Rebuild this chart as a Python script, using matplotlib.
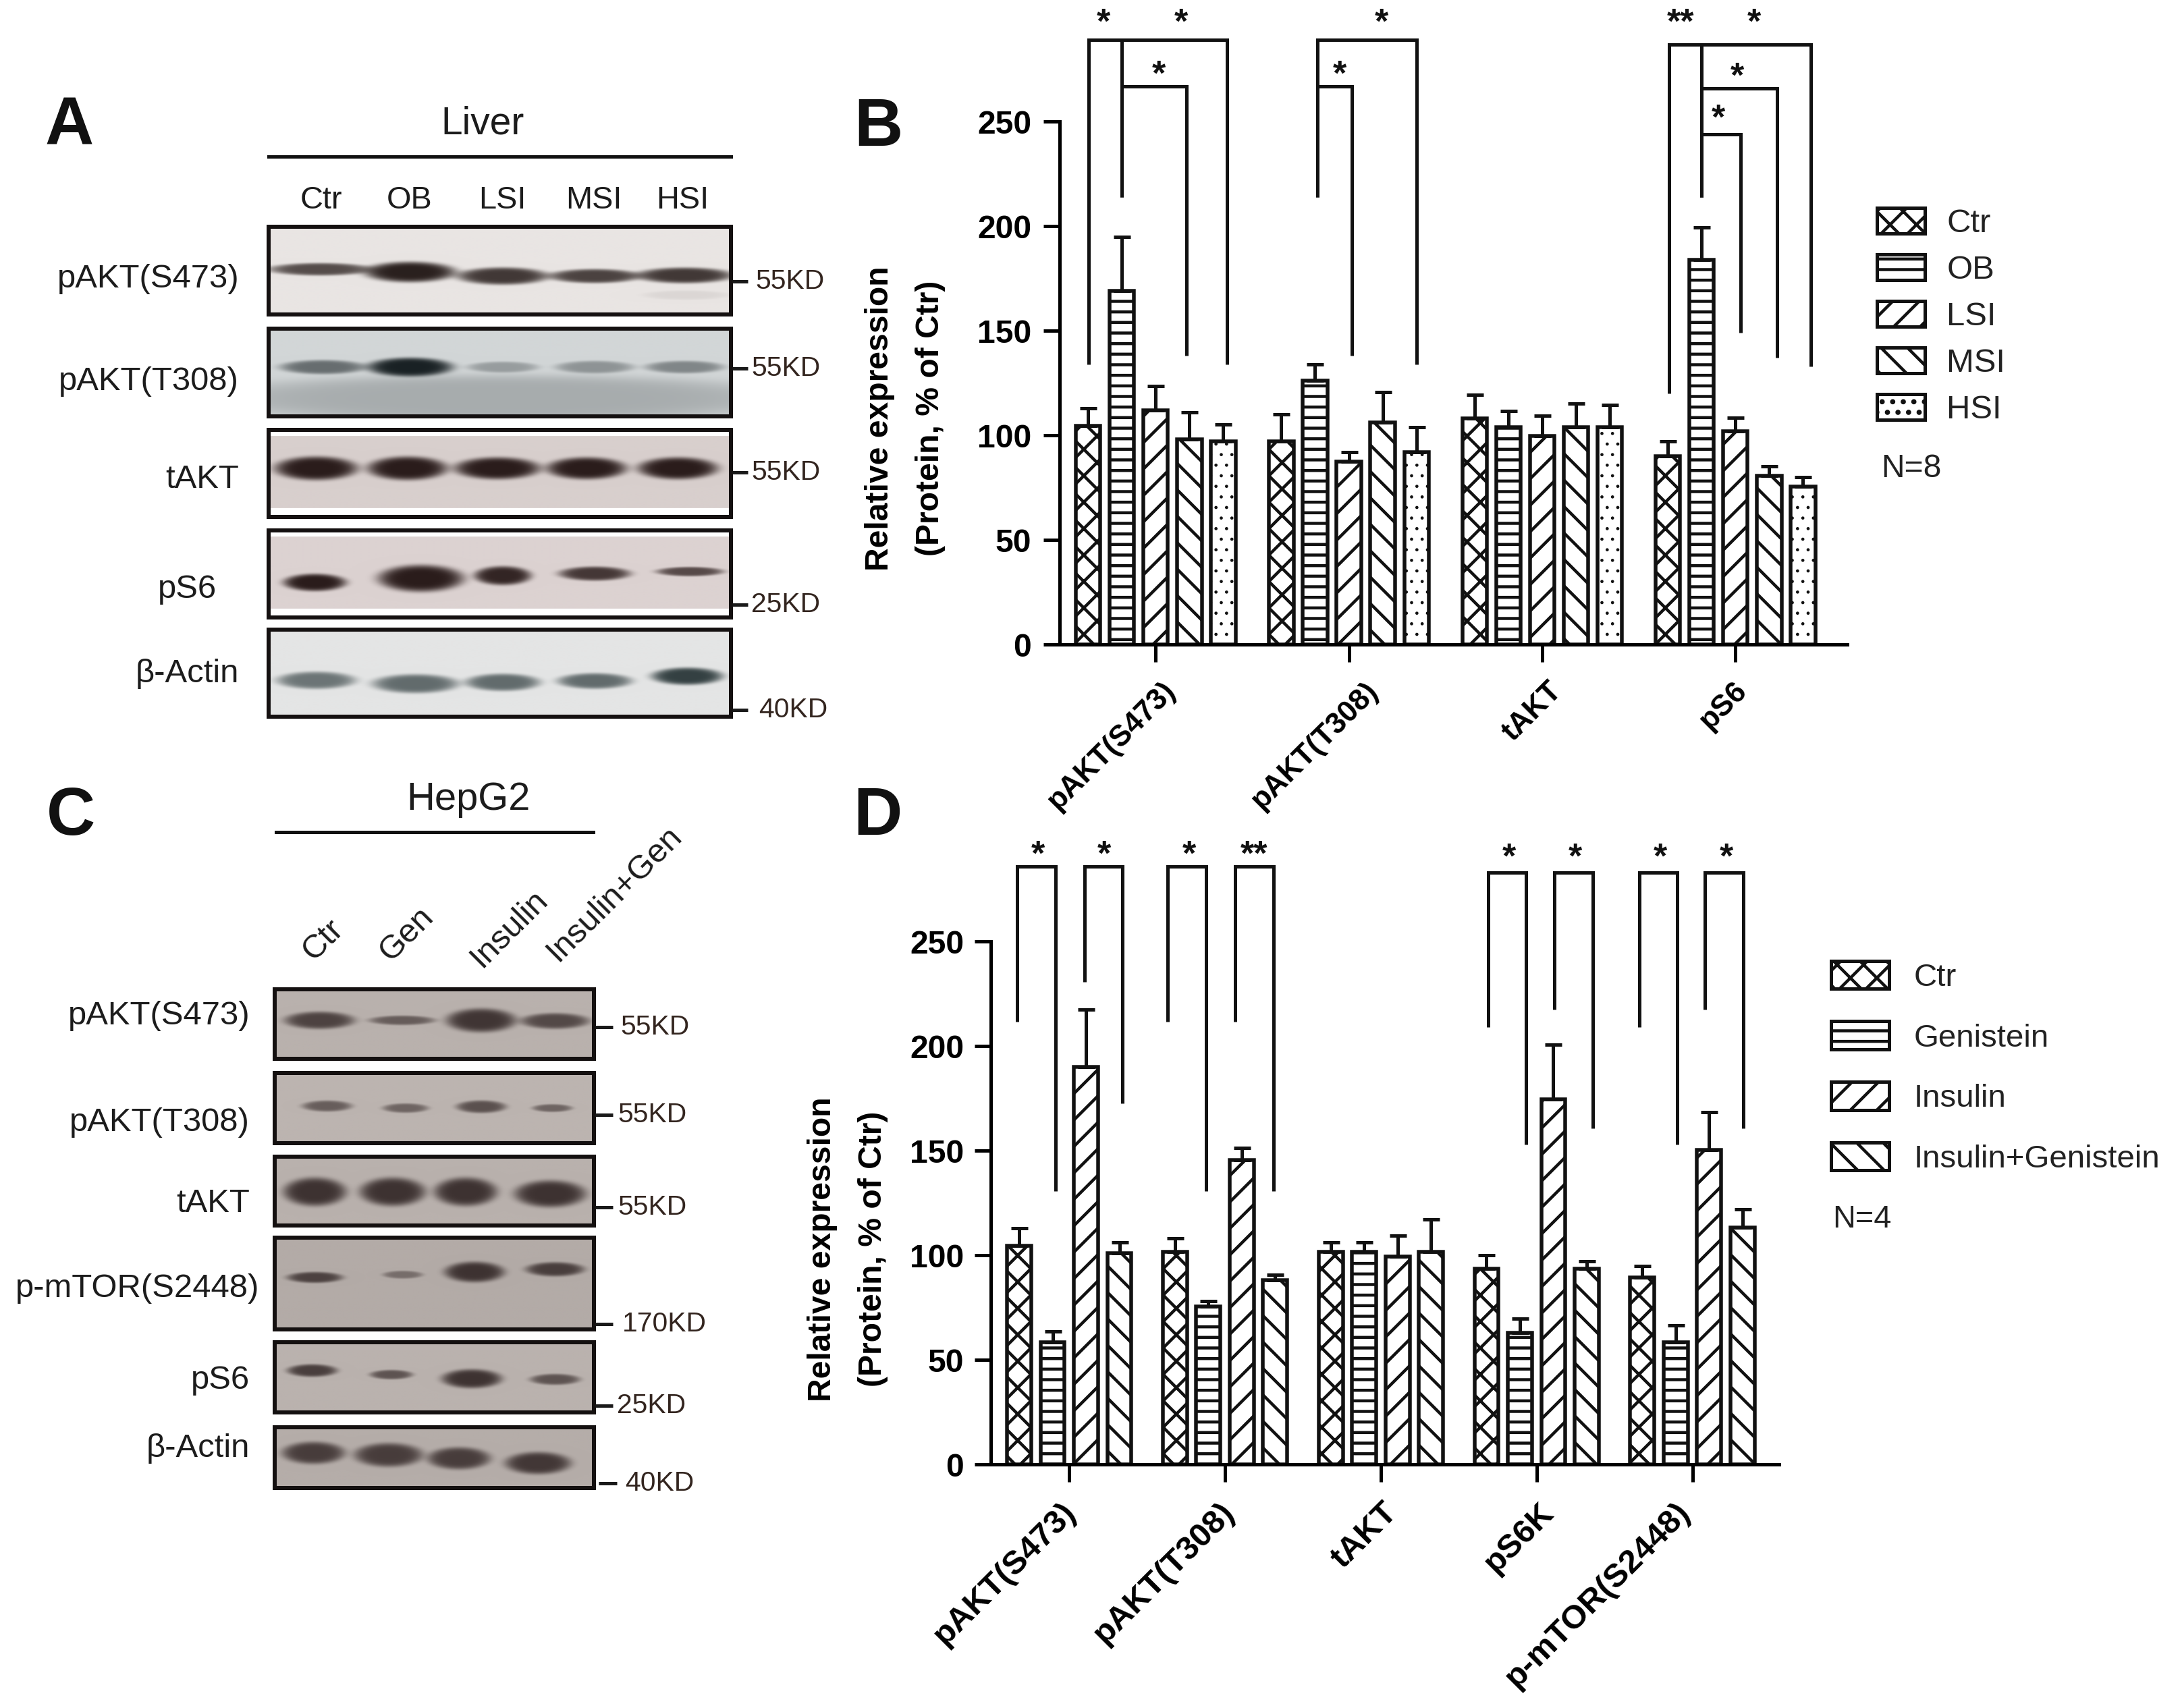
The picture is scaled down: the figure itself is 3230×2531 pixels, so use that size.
import numpy as np
import matplotlib
matplotlib.use('Agg')
import matplotlib.pyplot as plt
from matplotlib.patches import Patch, Rectangle
from matplotlib.transforms import ScaledTranslation

# Picked so the hatch tile comes out at the reference spacing
DPI = 470
W, H = 3230, 2531


def px(n):
    return n * 72.0 / DPI


plt.rcParams['font.family'] = ['Liberation Sans', 'DejaVu Sans']
plt.rcParams['hatch.linewidth'] = px(4.5)
plt.rcParams['axes.linewidth'] = px(5)

# Panel B data
groups_b = ['pAKT(S473)', 'pAKT(T308)', 'tAKT', 'pS6']
names_b = ['Ctr', 'OB', 'LSI', 'MSI', 'HSI']
ctr_b = [104.5, 97, 108, 90]
ob_b = [169, 126, 104, 184]
lsi_b = [112, 87.5, 99.5, 102]
msi_b = [98, 106, 104, 80.5]
hsi_b = [97, 92, 104, 75.5]
ctr_b_err = [8.5, 13, 11.5, 7]
ob_b_err = [26, 8, 7.5, 15.5]
lsi_b_err = [11.5, 4.5, 10, 6.5]
msi_b_err = [13, 14.5, 11, 4.5]
hsi_b_err = [8, 12, 10.5, 4.5]

# Panel D data
groups_d = ['pAKT(S473)', 'pAKT(T308)', 'tAKT', 'pS6K', 'p-mTOR(S2448)']
names_d = ['Ctr', 'Genistein', 'Insulin', 'Insulin+Genistein']
ctr_d = [104.4, 101.7, 101.7, 93.6, 89.5]
gen_d = [58.5, 75.5, 101.7, 63, 58.5]
ins_d = [190, 145.4, 99.5, 174.5, 150.5]
insgen_d = [101, 88, 101.7, 93.6, 113.3]
ctr_d_err = [8.6, 6.3, 4.3, 6.4, 5.2]
gen_d_err = [5.1, 2.5, 4.6, 6.6, 7.8]
ins_d_err = [27.4, 5.9, 10, 26.1, 18]
insgen_d_err = [5, 2.6, 15.3, 3.4, 8.7]

y_ticks = [0, 50, 100, 150, 200, 250]

# significance brackets: x left, y left end, x right, y right end, y top
brackets_b = [
    (-0.348, 134, 0.368, 134, 289), (-0.174, 214, 0.16, 138, 267),
    (0.836, 214, 1.351, 134, 289), (0.836, 214, 1.017, 138, 267),
    (2.656, 120, 3.391, 133, 287), (2.823, 214, 3.214, 137, 266),
    (2.823, 214, 3.027, 149, 244),
]
branches_b = [(-0.174, 214, 289), (2.823, 214, 287)]
stars_b = [(-0.27, 297, '*'), (0.13, 297, '*'), (0.017, 272, '*'), (1.17, 297, '*'),
           (0.953, 272, '*'), (2.716, 297, '**'), (3.097, 297, '*'), (3.01, 271, '*'),
           (2.913, 251, '*')]
brackets_d = [
    (-0.333, 211.7, -0.086, 130.8, 286), (0.098, 230.6, 0.339, 172.6, 286),
    (0.632, 211.7, 0.879, 130.8, 286), (1.063, 211.7, 1.31, 130.8, 286),
    (2.69, 209, 2.931, 153, 283), (3.115, 217.6, 3.362, 160.7, 283),
    (3.661, 209, 3.902, 153, 283), (4.08, 217.6, 4.328, 160.7, 283),
]
stars_d = [(-0.2, 291, '*'), (0.224, 291, '*'), (0.77, 291, '*'), (1.184, 291, '**'),
           (2.822, 290, '*'), (3.247, 290, '*'), (3.793, 290, '*'), (4.218, 290, '*')]

hatches_b = ['xxxx', '-----', '////', '\\\\\\\\', '.....']
hatches_d = ['xxxx', '-----', '////', '\\\\\\\\']

# Blot rows: box (x0, y0, x1, y1), background, band colour, bands (cx, cy, half w, half h, strength)
blots = [
    ((398, 336, 1083, 466), '#e9e5e3', '#241a18', [
        (474, 399, 72, 8, .75), (607, 403, 64, 13, .97), (744, 409, 64, 11, .85),
        (880, 409, 64, 9, .8), (1013, 408, 68, 10, .85), (1015, 437, 60, 6, .07)], 0),
    ((398, 487, 1083, 617), '#d2d6d7', '#10181b', [
        (740, 590, 420, 30, .22), (478, 544, 60, 9, .55), (607, 544, 60, 12, .95),
        (744, 544, 50, 7, .3), (880, 544, 55, 8, .35), (1013, 544, 55, 8, .42)], 0),
    ((398, 637, 1083, 766), '#d8cfcd', '#2a1c1b', [
        (468, 694, 58, 15, 1), (603, 694, 56, 15, 1), (736, 694, 60, 14, 1),
        (868, 694, 56, 14, 1), (1003, 694, 56, 14, 1)], 1),
    ((398, 786, 1083, 915), '#dcd2d1', '#2a1c1b', [
        (466, 863, 44, 11, 1), (623, 857, 60, 17, 1), (744, 853, 40, 12, .95),
        (880, 850, 50, 9, .85), (1021, 847, 47, 6, .75)], 1),
    ((398, 933, 1083, 1062), '#e4e5e5', '#1c2a2c', [
        (468, 1008, 55, 11, .6), (615, 1013, 60, 12, .65), (744, 1011, 52, 11, .65),
        (880, 1009, 52, 10, .65), (1017, 1002, 50, 11, .88)], 0),
    ((407, 1466, 880, 1569), '#b9b1ad', '#3a2f2e', [
        (473, 1512, 49, 11, .85), (595, 1512, 46, 6, .65), (712, 1512, 49, 15, .95),
        (821, 1513, 48, 10, .8)], 0),
    ((407, 1590, 880, 1694), '#bcb4b0', '#3a2f2e', [
        (484, 1639, 35, 7, .65), (600, 1642, 32, 6, .6), (712, 1640, 35, 8, .75),
        (817, 1642, 28, 5, .6)], 0),
    ((407, 1714, 880, 1816), '#b9b1ad', '#3d3231', [
        (466, 1766, 44, 18, 1), (581, 1766, 46, 18, 1), (689, 1766, 44, 18, 1),
        (814, 1769, 50, 17, 1)], 0),
    ((407, 1834, 880, 1970), '#b3aba7', '#3a2f2e', [
        (466, 1893, 39, 7, .85), (596, 1889, 28, 5, .5), (702, 1885, 42, 13, .97),
        (821, 1881, 41, 9, .88)], 0),
    ((407, 1989, 880, 2093), '#bab2ae', '#3a2f2e', [
        (462, 2031, 35, 8, .88), (579, 2037, 30, 6, .72), (698, 2043, 42, 12, .97),
        (821, 2044, 35, 7, .72)], 0),
    ((407, 2115, 880, 2205), '#b5ada9', '#423736', [
        (464, 2153, 44, 14, .95), (575, 2156, 48, 15, .95), (679, 2161, 44, 14, .95),
        (796, 2168, 46, 14, 1)], 0),
]

# left-hand protein names: label, right edge, y
row_labels = [
    ('pAKT(S473)', 354, 413), ('pAKT(T308)', 354, 565), ('tAKT', 354, 710),
    ('pS6', 321, 873), ('β-Actin', 354, 998),
    ('pAKT(S473)', 370, 1505), ('pAKT(T308)', 370, 1663), ('tAKT', 370, 1783),
    ('p-mTOR(S2448)', 384, 1909), ('pS6', 370, 2045), ('β-Actin', 370, 2146),
]
# size markers: label, tick x0, tick x1, text x, y
markers = [
    ('55KD', 1085, 1108, 1119, 417), ('55KD', 1085, 1108, 1113, 546),
    ('55KD', 1085, 1108, 1113, 700), ('25KD', 1085, 1108, 1113, 896),
    ('40KD', 1085, 1108, 1124, 1052),
    ('55KD', 882, 908, 919, 1522), ('55KD', 882, 908, 915, 1652),
    ('55KD', 882, 908, 915, 1789), ('170KD', 882, 908, 922, 1962),
    ('25KD', 882, 908, 914, 2083), ('40KD', 887, 914, 926, 2198),
]
lanes_a = ['Ctr', 'OB', 'LSI', 'MSI', 'HSI']
lanes_a_x = [476, 607, 744, 880, 1011]
lanes_c = ['Ctr', 'Gen', 'Insulin', 'Insulin+Gen']
lanes_c_xy = [(479, 1393), (602, 1384), (754, 1376), (910, 1324)]

fig = plt.figure(figsize=((W + 0.4) / DPI, (H + 0.4) / DPI), dpi=DPI)
bg = fig.add_axes([0, 0, 1, 1])
bg.set_axis_off()


def add_blot(box, back, dark, bands, strips):
    x0, y0, x1, y1 = box
    xx, yy = np.meshgrid(np.arange(x0, x1), np.arange(y0, y1))
    keep = np.ones(xx.shape)
    for cx, cy, hw, hh, s in bands:
        # oval, flat topped blob
        r2 = ((xx - cx) / (hw * 1.05)) ** 2 + ((yy - cy) / (hh * 1.15)) ** 2
        keep *= 1 - s * np.exp(-r2 ** 3)
    c0 = np.array(matplotlib.colors.to_rgb(back))
    c1 = np.array(matplotlib.colors.to_rgb(dark))
    img = keep[..., None] * c0 + (1 - keep[..., None]) * c1
    if strips:
        img[yy < y0 + 10] = 1
        img[yy > y1 - 14] = 1
    bg.imshow(img, extent=(x0, x1, y1, y0), aspect='auto', interpolation='bilinear', zorder=1)
    bg.add_patch(Rectangle((x0, y0), x1 - x0, y1 - y0, fill=False, ec='#141010', lw=px(6), zorder=2))


for box, back, dark, bands, strips in blots:
    add_blot(box, back, dark, bands, strips)
bg.set_xlim(0, W)
bg.set_ylim(H, 0)

for text, xr, y in row_labels:
    bg.text(xr, y, text, ha='right', va='center', fontsize=px(49), color='#1c1c1c')
for text, x0, x1, xt, y in markers:
    bg.plot([x0, x1], [y, y], color='#1a1a1a', lw=px(5), solid_capstyle='butt')
    bg.text(xt, y, text, ha='left', va='center', fontsize=px(41), color='#33251f')
for text, x in zip(lanes_a, lanes_a_x):
    bg.text(x, 297, text, ha='center', va='center', fontsize=px(47), color='#1c1c1c')
for text, (x, y) in zip(lanes_c, lanes_c_xy):
    bg.text(x, y, text, ha='center', va='center', rotation=45, fontsize=px(49), color='#1c1c1c')

bg.plot([398, 1083], [232, 232], color='#111111', lw=px(5))
bg.plot([409, 879], [1233, 1233], color='#111111', lw=px(5))
bg.text(715, 183, 'Liver', ha='center', va='center', fontsize=px(57), color='#1c1c1c')
bg.text(694, 1185, 'HepG2', ha='center', va='center', fontsize=px(58), color='#1c1c1c')
for letter, x, y in [('A', 103, 188), ('B', 1301, 190), ('C', 105, 1211), ('D', 1300, 1211)]:
    bg.text(x, y, letter, ha='center', va='center', fontsize=px(100), fontweight='bold', color='#111111')
bg.text(2787, 694, 'N=8', ha='left', va='center', fontsize=px(48), color='#222222')
bg.text(2715, 1807, 'N=4', ha='left', va='center', fontsize=px(47), color='#222222')


def style_hatch(patch, hatch):
    # dots must not get the thick hatch stroke
    if '.' in hatch and hasattr(patch, 'set_hatch_linewidth'):
        patch.set_hatch_linewidth(px(1.5))


def draw_panel(box, xlim, pitch, width, groups, series, errors, hatches, brackets, branches, stars,
               label_xy, label_dx, label_size, ypad):
    left, top, right, bottom = box
    ax = fig.add_axes([left / W, 1 - bottom / H, (right - left) / W, (bottom - top) / H])
    ax.patch.set_alpha(0)
    x = np.arange(len(groups))
    n = len(series)
    for i, (vals, errs, hatch) in enumerate(zip(series, errors, hatches)):
        pos = x + (i - (n - 1) / 2) * pitch
        rects = ax.bar(pos, vals, width, color='white', edgecolor='#111111', linewidth=px(5.5), hatch=hatch)
        for r in rects:
            style_hatch(r, hatch)
        ax.errorbar(pos, vals, yerr=[np.zeros(len(vals)), errs], fmt='none', ecolor='#111111',
                    elinewidth=px(5), capsize=px(12.5), capthick=px(5))
    for xl, yl, xr, yr, yt in brackets:
        ax.plot([xl, xl, xr, xr], [yl, yt, yt, yr], color='#111111', lw=px(5),
                clip_on=False, solid_joinstyle='miter', solid_capstyle='butt')
    for bx, yb, yt in branches:
        ax.plot([bx, bx], [yb, yt], color='#111111', lw=px(5), clip_on=False, solid_capstyle='butt')
    for sx, sy, s in stars:
        ax.text(sx, sy, s, ha='center', va='center', fontsize=px(52), fontweight='bold', color='#111111')
    ax.set_xlim(*xlim)
    ax.set_ylim(0, 250)
    ax.set_yticks(y_ticks)
    ax.set_xticks(x)
    ax.set_xticklabels(groups, rotation=45, ha='right', rotation_mode='anchor')
    ax.tick_params(axis='y', length=px(24), width=px(5), labelsize=px(48), pad=px(ypad))
    ax.tick_params(axis='x', length=px(26), width=px(5), labelsize=px(label_size), pad=px(22))
    for lab in ax.get_yticklabels() + ax.get_xticklabels():
        lab.set_fontweight('bold')
    for lab, dx in zip(ax.get_xticklabels(), label_dx):
        lab.set_transform(lab.get_transform() + ScaledTranslation(dx / DPI, 0, fig.dpi_scale_trans))
    for side in ['top', 'right']:
        ax.spines[side].set_visible(False)
    ax.set_ylabel('Relative expression\n(Protein, % of Ctr)', fontsize=px(48), fontweight='bold',
                  linespacing=1.87, va='center', ha='center')
    ax.yaxis.set_label_coords((label_xy[0] - left) / (right - left),
                              (bottom - label_xy[1]) / (bottom - top))
    return ax


ax_b = draw_panel((1570, 180.6, 2737, 955), (-0.496, 3.58), 0.175, 0.127, groups_b,
                  [ctr_b, ob_b, lsi_b, msi_b, hsi_b],
                  [ctr_b_err, ob_b_err, lsi_b_err, msi_b_err, hsi_b_err],
                  hatches_b, brackets_b, branches_b, stars_b, (1341, 620), [8, 22, 8, -4], 44, 18)
ax_d = draw_panel((1468, 1395.4, 2636, 2170), (-0.503, 4.558), 0.2144, 0.155, groups_d,
                  [ctr_d, gen_d, ins_d, insgen_d],
                  [ctr_d_err, gen_d_err, ins_d_err, insgen_d_err],
                  hatches_d, brackets_d, [], stars_d, (1256, 1851), [-13, -9, 1, 3, -26], 49, 16)


def add_legend(ax, names, hatches, anchor, fsize, hlen, hheight, spacing, pad):
    handles = []
    for name, hatch in zip(names, hatches):
        p = Patch(facecolor='white', edgecolor='#111111', linewidth=px(5), hatch=hatch, label=name)
        style_hatch(p, hatch)
        handles.append(p)
    leg = ax.legend(handles=handles, loc='upper left', frameon=False, prop={'size': px(fsize)},
                    bbox_to_anchor=(anchor[0] / W, 1 - anchor[1] / H), bbox_transform=fig.transFigure,
                    borderaxespad=0, borderpad=0, handlelength=hlen / fsize, handleheight=hheight / fsize,
                    handletextpad=pad / fsize, labelspacing=spacing / fsize, labelcolor='#222222')
    return leg


add_legend(ax_b, names_b, hatches_b, (2781, 308), 49, 71, 40, 23, 32)
add_legend(ax_d, names_d, hatches_d, (2713, 1424), 47.5, 86, 46, 42.5, 36)

fig.savefig('out.png', dpi=DPI, facecolor='white')
print(fig.canvas.get_width_height())
